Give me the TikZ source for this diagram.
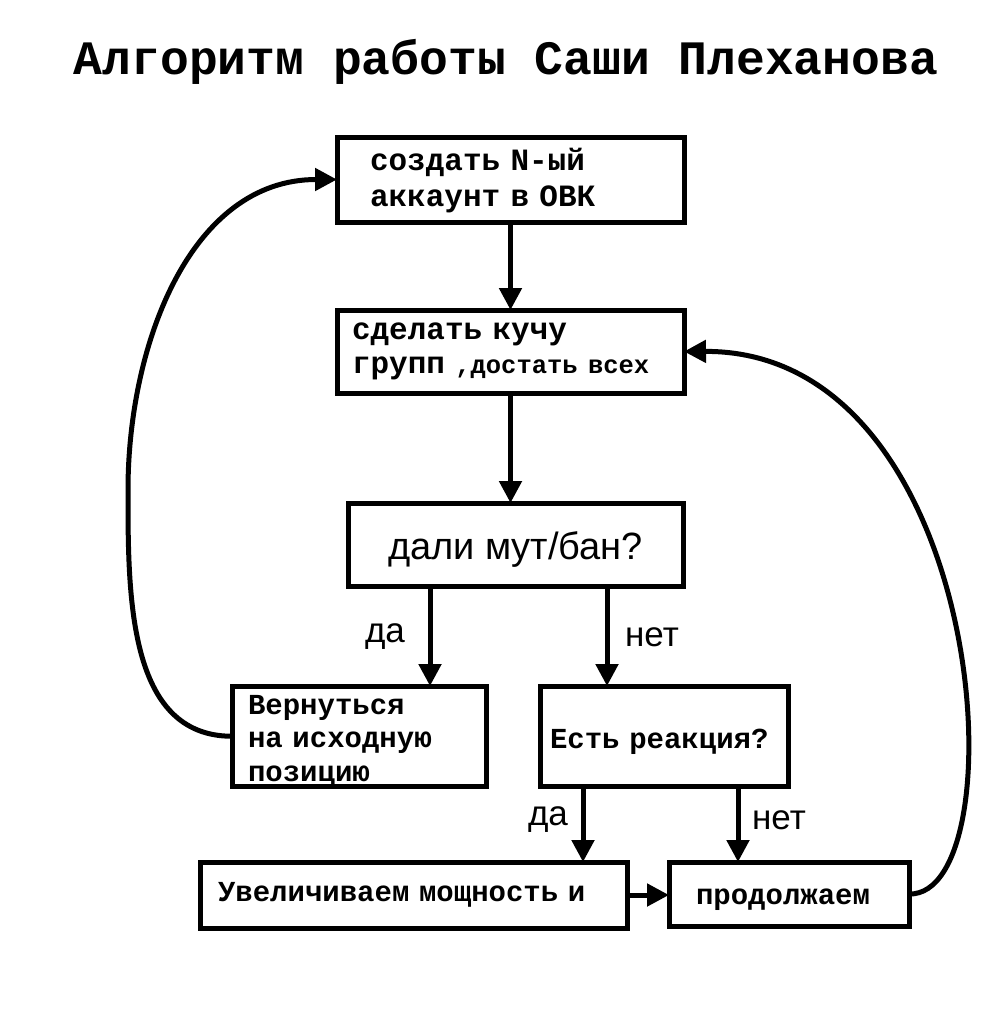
\documentclass[tikz,border=0pt]{standalone}
\usepackage{fontspec}
\newfontfamily\kur{Liberation Mono}[WordSpace={1,0,0}]
\newfontfamily\arial{Liberation Sans}
\usetikzlibrary{arrows.meta}
\newcommand\vniz[2]{\raisebox{-#1}[\height][\depth]{#2}}
\tikzset{
  blok/.style={draw, line width=5pt, anchor=north west, align=left, outer sep=0pt, inner ysep=0pt,
    font=\kur\bfseries\fontsize{29}{33.5}\selectfont},
  strelka/.style={line width=5pt, -{Triangle[length=22pt,width=22pt]}},
  metka/.style={font=\arial\fontsize{35}{38}\selectfont}
}
\begin{document}
\begin{tikzpicture}[x=1pt,y=-1pt]
\useasboundingbox (0,0) rectangle (1000,1018);
\node[font=\kur\bfseries\fontsize{48}{50}\selectfont] (title) at (506,62) {Алгоритм работы Саши Плеханова};
% boxes
\node[blok, minimum height=85, text width=281, inner xsep=33, font=\kur\bfseries\fontsize{31}{36}\selectfont] (akk) at (337,137) {\vniz{2pt}{\begin{tabular}{@{}l@{}}создать N-ый\\аккаунт в ОВК\end{tabular}}};
\node[blok, minimum height=83, text width=317, inner xsep=15, font=\kur\bfseries\fontsize{31}{34}\selectfont] (kucha) at (337,310) {сделать кучу\\групп {\fontsize{25.5}{30}\selectfont,достать всех}};
\node[blok, minimum height=83, minimum width=335, align=center, font=\arial\fontsize{38}{40}\selectfont] (dali) at (348,503) {\vniz{5pt}{дали мут/бан?}};
\node[blok, minimum height=100, text width=222, inner xsep=16] (vern) at (232,686) {\vniz{5pt}{\begin{tabular}{@{}l@{}}Вернуться\\на исходную\\позицию\end{tabular}}};
\node[blok, minimum height=100, text width=228, inner xsep=10] (est) at (540,686) {\vniz{6pt}{Есть реакция?}};
\node[blok, minimum height=66, text width=391, inner xsep=18] (vel) at (200,862) {Увеличиваем мощность и};
\node[blok, minimum height=64, text width=186, inner xsep=27] (prod) at (669,862) {\vniz{6pt}{продолжаем}};
% labels
\node[metka] (da1) at (385,637) {да};
\node[metka] (net1) at (652,637) {нет};
\node[metka] (da2) at (548,820) {да};
\node[metka] (net2) at (779,820) {нет};
% arrows
\draw[strelka] (akk) -- (kucha);
\draw[strelka] (kucha.south) -- (kucha.south |- dali.north);
\draw[strelka] (430,0 |- dali.south) -- (430,0 |- vern.north);
\draw[strelka] (607,0 |- dali.south) -- (607,0 |- est.north);
\draw[strelka] (583,0 |- est.south) -- (583,0 |- vel.north);
\draw[strelka] (738,0 |- est.south) -- (738,0 |- prod.north);
\draw[strelka] (vel.east) -- (vel.east -| prod.west);
\draw[strelka] (vern.west) to[out=180,in=-90] (128,490) to[out=90,in=180] (akk.west);
\draw[strelka] (prod.east) .. controls (1020,897) and (990,350) .. (kucha.east);
\end{tikzpicture}
\end{document}
